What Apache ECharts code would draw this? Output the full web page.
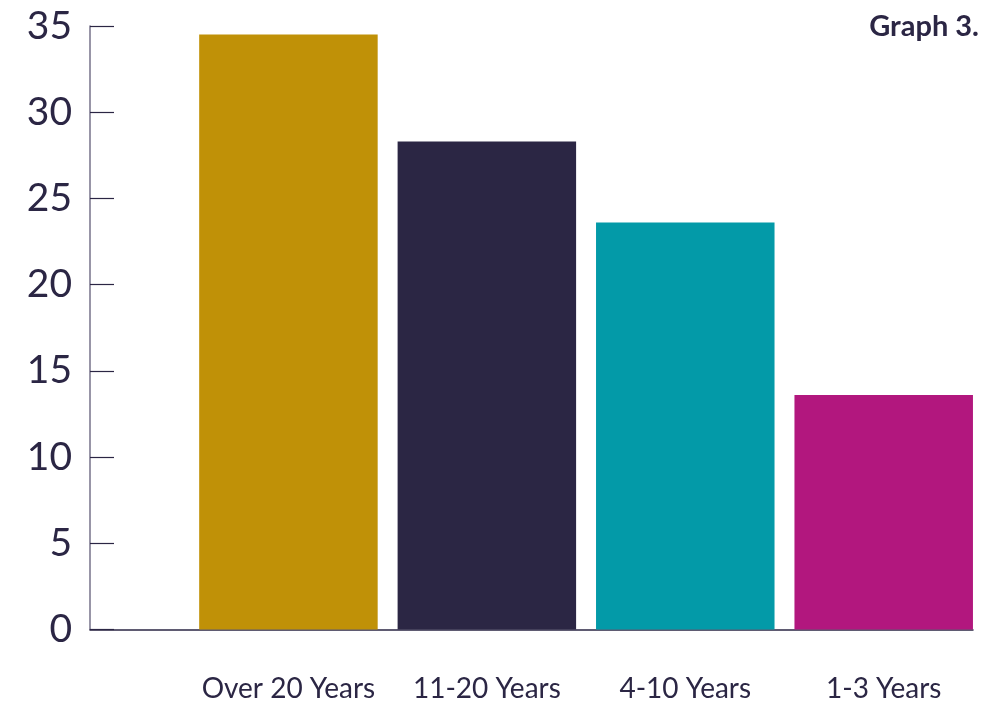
<!DOCTYPE html>
<html>
<head>
<meta charset="utf-8">
<script src="https://cdn.jsdelivr.net/npm/echarts@6/dist/echarts.min.js"></script>
<style>
html,body{margin:0;padding:0;background:#fff;}
#chart{width:1004px;height:703px;}
</style>
</head>
<body>
<div id="chart"></div>
<script>
const categories = ['Over 20 Years', '11-20 Years', '4-10 Years', '1-3 Years'];
const values = [34.5, 28.3, 23.6, 13.6];
const barColors = ['#c09107', '#2b2644', '#039aa8', '#b2177e'];
const yMin = 0, yMax = 35, yStep = 5;
const titleText = 'Graph 3.';

const textColor = '#2b2644';
const chart = echarts.init(document.getElementById('chart'));
chart.setOption({
  animation: false,
  backgroundColor: '#ffffff',
  title: {
    text: titleText,
    right: 20,
    top: 7,
    textStyle: { fontFamily: 'Lato', fontWeight: 'bold', fontSize: 29, color: textColor }
  },
  grid: { left: 90, right: 31, top: 26, bottom: 73.5 },
  xAxis: {
    type: 'value',
    min: 0,
    max: 4.45,
    interval: 1,
    splitLine: { show: false },
    axisTick: { show: false },
    axisLine: { show: true, lineStyle: { color: textColor, width: 1.5 } },
    axisLabel: {
      margin: 45,
      fontFamily: 'Lato',
      fontSize: 28,
      color: textColor,
      showMaxLabel: false,
      formatter: v => Number.isInteger(v) && categories[v - 1] !== undefined ? categories[v - 1] : ''
    }
  },
  yAxis: {
    type: 'value',
    min: yMin,
    max: yMax,
    interval: yStep,
    splitLine: { show: false },
    axisLine: { show: true, lineStyle: { color: '#76728a', width: 1.5 } },
    axisTick: { show: true, inside: true, length: 24, lineStyle: { color: textColor, width: 1.2 } },
    axisLabel: { margin: 18, fontFamily: 'Lato', fontSize: 39, color: textColor }
  },
  series: [{
    type: 'bar',
    barWidth: 178.5,
    data: values.map((v, i) => ({ value: [i + 1, v], itemStyle: { color: barColors[i] } }))
  }]
});
</script>
</body>
</html>
